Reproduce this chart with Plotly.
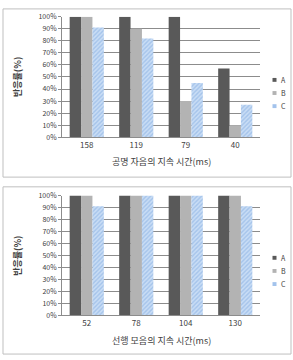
import plotly.graph_objects as go

cats1 = ["158", "119", "79", "40"]
a1 = [100, 100, 100, 57]
b1 = [100, 90, 30, 10]
c1 = [91, 82, 45, 27]

cats2 = ["52", "78", "104", "130"]
a2 = [100, 100, 100, 100]
b2 = [100, 100, 100, 100]
c2 = [91, 100, 100, 91]

series_names = ["A", "B", "C"]
xtitle1 = "공명 자음의 지속 시간(ms)"
xtitle2 = "선행 모음의 지속 시간(ms)"
ytitle = "반응률(%)"
yticks = list(range(0, 101, 10))
yticktext = [f"{v}%" for v in yticks]

W, H = 293, 360
FONT = "Noto Sans CJK KR, Arial, sans-serif"
colA = "#595959"
colB = "#b3b3b3"
colC_bg = "#c9ddf5"
colC_fg = "#7fa9e0"
swatch_cols = [colA, colB, "#a3c3ec"]

fig = go.Figure()

def add_bars(cats, vals, xa, ya):
    a, b, c = vals
    fig.add_trace(go.Bar(x=cats, y=a, name=series_names[0], marker=dict(color=colA, line=dict(width=0)),
                         xaxis=xa, yaxis=ya, showlegend=False))
    fig.add_trace(go.Bar(x=cats, y=b, name=series_names[1], marker=dict(color=colB, line=dict(width=0)),
                         xaxis=xa, yaxis=ya, showlegend=False))
    fig.add_trace(go.Bar(x=cats, y=c, name=series_names[2],
                         marker=dict(color=colC_bg, line=dict(width=0),
                                     pattern=dict(shape="/", fgcolor=colC_fg, bgcolor=colC_bg, size=3, solidity=0.45)),
                         xaxis=xa, yaxis=ya, showlegend=False))

add_bars(cats1, (a1, b1, c1), "x", "y")
add_bars(cats2, (a2, b2, c2), "x2", "y2")

def px(x):
    return x / W

def py(y):
    return 1 - y / H

xdom = [px(62), px(260)]
ydom1 = [py(135), py(11)]
ydom2 = [py(318), py(195)]

axis_common_x = dict(showgrid=False, showline=True, linecolor="#8c8c8c", linewidth=1,
                     ticks="", tickfont=dict(size=8, color="#404040", family=FONT))
axis_common_y = dict(range=[0, 100], tickvals=yticks, ticktext=yticktext, showgrid=True,
                     gridcolor="#8c8c8c", gridwidth=1, showline=True, linecolor="#8c8c8c",
                     ticks="outside", ticklen=3, tickcolor="#8c8c8c",
                     tickfont=dict(size=7, color="#404040", family=FONT), zeroline=False)

shapes = [
    dict(type="rect", xref="paper", yref="paper", x0=px(3), x1=px(291), y0=py(176), y1=py(3),
         line=dict(color="#bfbfbf", width=1)),
    dict(type="rect", xref="paper", yref="paper", x0=px(3), x1=px(291), y0=py(358), y1=py(186),
         line=dict(color="#bfbfbf", width=1)),
]
annotations = [
    dict(text=xtitle1, xref="paper", yref="paper", x=px(161), y=py(160), showarrow=False,
         font=dict(size=9, color="#404040", family=FONT), xanchor="center", yanchor="middle"),
    dict(text=xtitle2, xref="paper", yref="paper", x=px(161), y=py(344), showarrow=False,
         font=dict(size=9, color="#404040", family=FONT), xanchor="center", yanchor="middle"),
    dict(text="<b>" + ytitle + "</b>", xref="paper", yref="paper", x=px(18), y=py(73), showarrow=False,
         textangle=-90, font=dict(size=9, color="#404040", family=FONT), xanchor="center", yanchor="middle"),
    dict(text="<b>" + ytitle + "</b>", xref="paper", yref="paper", x=px(18), y=py(257), showarrow=False,
         textangle=-90, font=dict(size=9, color="#404040", family=FONT), xanchor="center", yanchor="middle"),
]

# compact legends (small swatch + label), one per chart
for top in (76, 259):
    for i, (nm, col) in enumerate(zip(series_names, swatch_cols)):
        yc = top + i * 13.5
        shapes.append(dict(type="rect", xref="paper", yref="paper", x0=px(272.5), x1=px(276.5),
                           y0=py(yc + 2), y1=py(yc - 2), fillcolor=col, line=dict(width=0)))
        annotations.append(dict(text=nm, xref="paper", yref="paper", x=px(278.5), y=py(yc), showarrow=False,
                                xanchor="left", yanchor="middle",
                                font=dict(size=7, color="#404040", family=FONT)))

fig.update_layout(
    width=W, height=H, margin=dict(l=0, r=0, t=0, b=0),
    paper_bgcolor="white", plot_bgcolor="white",
    barmode="group", bargap=0.31, bargroupgap=0, showlegend=False,
    xaxis=dict(domain=xdom, anchor="y", **axis_common_x),
    yaxis=dict(domain=ydom1, anchor="x", **axis_common_y),
    xaxis2=dict(domain=xdom, anchor="y2", **axis_common_x),
    yaxis2=dict(domain=ydom2, anchor="x2", **axis_common_y),
    font=dict(family=FONT),
    shapes=shapes,
    annotations=annotations,
)

fig.write_html("out.html")
